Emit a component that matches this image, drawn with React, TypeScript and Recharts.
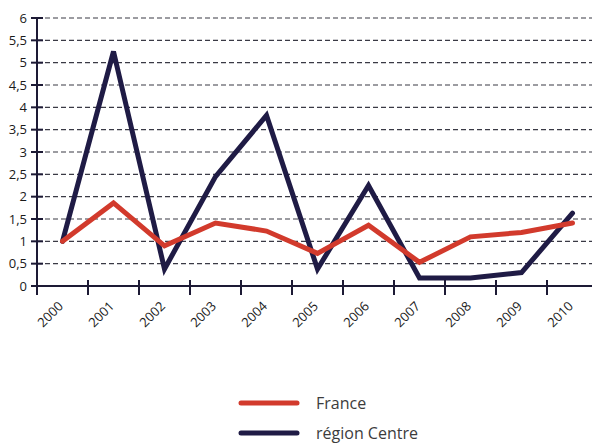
import React from 'react';
import { LineChart, Line, XAxis, YAxis, CartesianGrid } from 'recharts';

const years = ['2000', '2001', '2002', '2003', '2004', '2005', '2006', '2007', '2008', '2009', '2010'];
const france = [1, 1.86, 0.9, 1.41, 1.23, 0.73, 1.36, 0.53, 1.1, 1.2, 1.41];
const centre = [1, 5.25, 0.38, 2.45, 3.82, 0.38, 2.25, 0.18, 0.18, 0.3, 1.63];
const yTicks = [0, 0.5, 1, 1.5, 2, 2.5, 3, 3.5, 4, 4.5, 5, 5.5, 6];
const seriesNames = ['France', 'région Centre'];

const data = years.map((y, i) => ({ year: y, france: france[i], centre: centre[i] }));

const AXIS = '#1d1a35';
const RED = '#d23a2c';
const NAVY = '#1f1b45';
const FONT = '"Open Sans", sans-serif';

const CHART_W = 600;
const CHART_H = 443;
const MARGIN = { top: 18, right: 2, bottom: 97, left: 0 };
const Y_W = 37;
const HALF_BAND = (CHART_W - MARGIN.right - MARGIN.left - Y_W) / years.length / 2;

const XTick = (props: any) => {
  const { x, y, payload } = props;
  return (
    <g>
      <line x1={x - HALF_BAND} x2={x - HALF_BAND} y1={y - 6} y2={y + 9} stroke={AXIS} strokeWidth={2} />
      <text
        transform={`translate(${x + 1.5},${y + 21}) rotate(-45)`}
        textAnchor="end"
        fontFamily={FONT}
        fontSize={13}
        fill="#1a1a1a"
      >
        {payload.value}
      </text>
    </g>
  );
};

const YTick = (props: any) => {
  const { x, y, payload } = props;
  return (
    <g>
      <line x1={x - 6} x2={x + 6} y1={y} y2={y} stroke={AXIS} strokeWidth={2} />
      <text x={x - 10} y={y + 4.5} textAnchor="end" fontFamily={FONT} fontSize={13} fill="#1a1a1a">
        {String(payload.value).replace('.', ',')}
      </text>
    </g>
  );
};

export default function App() {
  return (
    <div style={{ position: 'absolute', left: 0, top: 0, width: 592, height: 443, overflow: 'hidden', background: '#fff' }}>
      <LineChart width={CHART_W} height={CHART_H} data={data} margin={MARGIN}>
        <CartesianGrid horizontal vertical={false} stroke="#3a3a45" strokeDasharray="5 3" strokeWidth={1.2} />
        <XAxis
          dataKey="year"
          scale="band"
          height={60}
          tickSize={0}
          tickMargin={0}
          tickLine={false}
          axisLine={{ stroke: AXIS, strokeWidth: 2 }}
          tick={<XTick />}
          interval={0}
        />
        <YAxis
          width={Y_W}
          domain={[0, 6]}
          ticks={yTicks}
          interval={0}
          tickSize={0}
          tickMargin={0}
          tickLine={false}
          axisLine={{ stroke: AXIS, strokeWidth: 2 }}
          tick={<YTick />}
        />
        <Line
          type="linear"
          dataKey="centre"
          name={seriesNames[1]}
          stroke={NAVY}
          strokeWidth={5}
          strokeLinecap="round"
          strokeLinejoin="miter"
          dot={false}
          activeDot={false}
          isAnimationActive={false}
        />
        <Line
          type="linear"
          dataKey="france"
          name={seriesNames[0]}
          stroke={RED}
          strokeWidth={5}
          strokeLinecap="round"
          strokeLinejoin="miter"
          dot={false}
          activeDot={false}
          isAnimationActive={false}
        />
      </LineChart>
      {[
        { name: seriesNames[0], color: RED, top: 403 },
        { name: seriesNames[1], color: NAVY, top: 433 },
      ].map((item) => (
        <div key={item.name} style={{ position: 'absolute', left: 237, top: item.top - 10, height: 20, display: 'flex', alignItems: 'center' }}>
          <svg width={64} height={10} style={{ display: 'block' }}>
            <line x1={4} x2={60} y1={5} y2={5} stroke={item.color} strokeWidth={5} strokeLinecap="round" />
          </svg>
          <span style={{ marginLeft: 15, fontFamily: FONT, fontSize: 16, color: '#3c3c3c', lineHeight: '20px' }}>{item.name}</span>
        </div>
      ))}
    </div>
  );
}
